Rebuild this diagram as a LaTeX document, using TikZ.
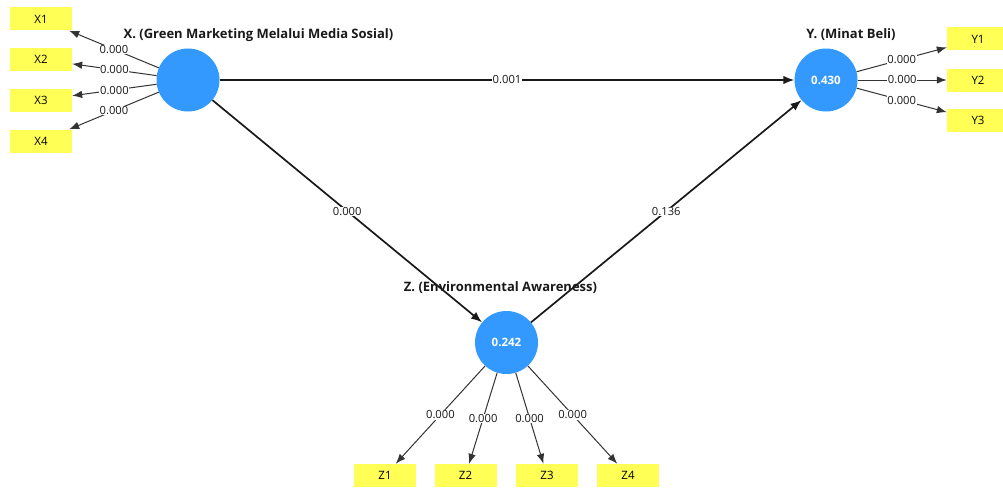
\documentclass[tikz,border=0pt]{standalone}
\usepackage{fontspec}
\setmainfont{Open Sans}
\usetikzlibrary{arrows.meta}
\definecolor{plsblue}{RGB}{51,153,255}
\definecolor{plsyellow}{RGB}{255,255,85}
\tikzstyle{construct}=[circle,fill=plsblue,draw=none,inner sep=0pt,minimum size=63pt,text=white,font=\fontsize{11.5}{13}\selectfont\bfseries]
\tikzstyle{indicator}=[rectangle,fill=plsyellow,inner sep=0pt,minimum width=62pt,minimum height=23pt,font=\fontsize{11.5}{13}\selectfont]
\tikzstyle{structural}=[-{Latex[length=11pt,width=8.5pt]},line width=1.7pt,draw=black!90]
\tikzstyle{loading}=[-{Latex[length=10pt,width=7.5pt]},line width=1pt,draw=black!80]
\tikzstyle{coef}=[fill=white,inner sep=0.6pt,font=\fontsize{11.2}{12}\selectfont,text=black!90]
\tikzstyle{title}=[font=\fontsize{13}{15}\selectfont\bfseries,text=black!90]

\begin{document}
\begin{tikzpicture}[x=1pt,y=-1pt]
			\useasboundingbox (0,0) rectangle (1003,487);
			\begin{scope}
			\clip (0,0) rectangle (1003,487);
			
			\node (X) at (188,80) [construct] {};
			\node (Y) at (826,80) [construct] {0.430};
			\node (Z) at (506.5,342.5) [construct] {0.242};
			
			\node (tx) at (258.5,35) [title] {X. (Green Marketing Melalui Media Sosial)};
			\node (ty) at (851,35) [title] {Y. (Minat Beli)};
			\node (tz) at (500.5,288) [title] {Z. (Environmental Awareness)};
			
			\node (X1) at (41,19) [indicator] {X1};
			\node (X2) at (41,59.5) [indicator] {X2};
			\node (X3) at (41,100) [indicator] {X3};
			\node (X4) at (41,141) [indicator] {X4};
			
			\node (Y1) at (978,39) [indicator] {Y1};
			\node (Y2) at (978,80) [indicator] {Y2};
			\node (Y3) at (978,120.5) [indicator] {Y3};
			
			\node (Z1) at (385,475.5) [indicator] {Z1};
			\node (Z2) at (465.5,475.5) [indicator] {Z2};
			\node (Z3) at (547,475.5) [indicator] {Z3};
			\node (Z4) at (628,475.5) [indicator] {Z4};
			
			\draw [structural] (X) -- node [coef] {0.001} (Y);
			\draw [structural] (X) -- node [coef] {0.000} (Z);
			\draw [structural] (Z) -- node [coef] {0.136} (Y);
			
			\draw [loading] (X) -- node [coef] {0.000} (X1);
			\draw [loading] (X) -- node [coef] {0.000} (X2);
			\draw [loading] (X) -- node [coef] {0.000} (X3);
			\draw [loading] (X) -- node [coef] {0.000} (X4);
			
			\draw [loading] (Y) -- node [coef] {0.000} (Y1);
			\draw [loading] (Y) -- node [coef] {0.000} (Y2);
			\draw [loading] (Y) -- node [coef] {0.000} (Y3);
			
			\draw [loading] (Z) -- node [coef] {0.000} (Z1);
			\draw [loading] (Z) -- node [coef] {0.000} (Z2);
			\draw [loading] (Z) -- node [coef] {0.000} (Z3);
			\draw [loading] (Z) -- node [coef] {0.000} (Z4);
			\end{scope}
		\end{tikzpicture}
\end{document}
